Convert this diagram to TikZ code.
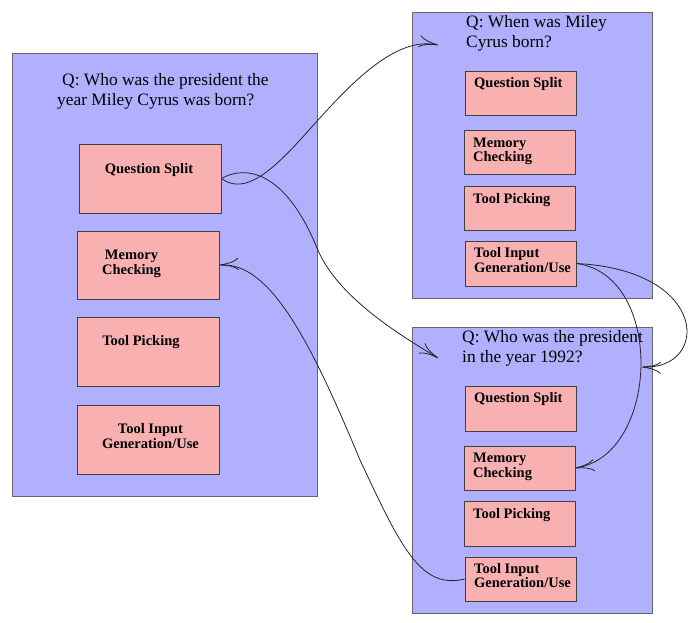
\documentclass[tikz,border=0pt]{standalone}
\usepackage{fontspec}
\setmainfont{Liberation Serif}
\usetikzlibrary{arrows.meta,fit}
\definecolor{blueF}{RGB}{176,176,255}
\definecolor{pinkF}{RGB}{248,176,176}
\begin{document}
\begin{tikzpicture}[x=1pt,y=-1pt,
  outerbox/.style={draw=black!60, fill=blueF, line width=0.9pt, inner sep=0pt},
  inbox/.style={draw=black!75, fill=pinkF, line width=0.9pt, inner sep=0pt},
  ttl/.style={font=\fontsize{17.4}{20}\selectfont, align=left, inner sep=0pt, anchor=base west},
  lbl/.style={font=\bfseries\fontsize{14.5}{14.5}\selectfont, inner sep=0pt},
  link/.style={draw=black!85, line width=0.8pt, -{To[length=19pt,width=12pt]}}]
\useasboundingbox (0,0) rectangle (690,622);
% left panel
\node[outerbox, fit={(12,53) (317,496)}] (L) {};
\node[inbox, fit={(79,144) (221,213)}] (lqs) {};
\node[inbox, fit={(77,231) (219,299)}] (lmc) {};
\node[inbox, fit={(77,317) (219,386)}] (ltp) {};
\node[inbox, fit={(77,405) (219,474)}] (lti) {};
\node[ttl] (Lt) at (57,105) {\hspace*{5pt}Q: Who was the president the\\year Miley Cyrus was born?};
\node[lbl, anchor=base] (lqst) at (149,173) {Question Split};
\node[lbl, anchor=base, align=center] (lmct) at (131.5,274) {Memory\\Checking};
\node[lbl, anchor=base] (ltpt) at (141,345) {Tool Picking};
\node[lbl, anchor=base, align=center] (ltit) at (150.5,448) {Tool Input\\Generation/Use};
% top right panel
\node[outerbox, fit={(412,12) (652,298)}] (T) {};
\node[inbox, fit={(465,71) (576,115)}] (tqs) {};
\node[inbox, fit={(464,130) (575,174)}] (tmc) {};
\node[inbox, fit={(464,186) (575,230)}] (ttp) {};
\node[inbox, fit={(465,241) (576,286)}] (tti) {};
\node[ttl] (Tt) at (466,47) {Q: When was Miley\\Cyrus born?};
\node[lbl, anchor=base west] (tqst) at (474,87) {Question Split};
\node[lbl, anchor=base west, align=left] (tmct) at (473,161.5) {Memory\\Checking};
\node[lbl, anchor=base west] (ttpt) at (473,203) {Tool Picking};
\node[lbl, anchor=base west, align=left] (ttit) at (474,272) {Tool Input\\Generation/Use};
% bottom right panel
\node[outerbox, fit={(412,327) (652,613)}] (B) {};
\node[inbox, fit={(465,386) (576,431)}] (bqs) {};
\node[inbox, fit={(464,446) (575,490)}] (bmc) {};
\node[inbox, fit={(464,501) (575,546)}] (btp) {};
\node[inbox, fit={(465,557) (576,601)}] (bti) {};
\node[ttl] (Bt) at (462,362) {Q: Who was the president\\in the year 1992?};
\node[lbl, anchor=base west] (bqst) at (474,402) {Question Split};
\node[lbl, anchor=base west, align=left] (bmct) at (473,477) {Memory\\Checking};
\node[lbl, anchor=base west] (btpt) at (473,518) {Tool Picking};
\node[lbl, anchor=base west, align=left] (btit) at (474,587.5) {Tool Input\\Generation/Use};
% connectors
\coordinate (tin) at (438,45);
\coordinate (bin) at (438,358);
\coordinate (bin2) at (642,367);
\draw[link] (lqs.east) .. controls (245,165) and (285,170) .. (317,248) .. controls (337,297) and (400,335) .. (bin);
\draw[link] (lqs.east) .. controls (240,192) and (262,182) .. (300,140) .. controls (340,96) and (390,35) .. (tin);
\draw[link] (bti.west) .. controls (420,590) and (400,545) .. (360,460) .. controls (310,340) and (270,262) .. (lmc.east);
\draw[link] (tti.east) .. controls (710,270) and (710,370) .. (bin2);
\draw[link] (tti.east) .. controls (665,275) and (660,455) .. (bmc.east);
\end{tikzpicture}
\end{document}
